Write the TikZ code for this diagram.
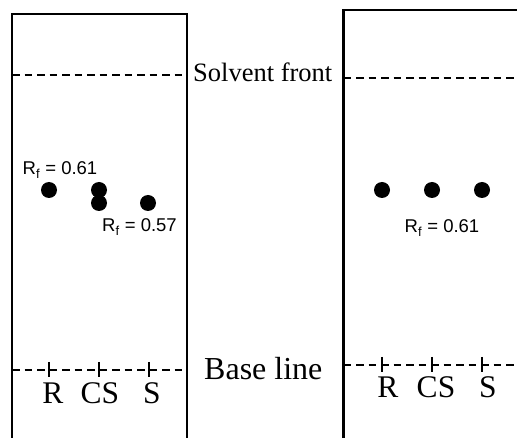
\documentclass[tikz,border=0pt]{standalone}
\usepackage{fontspec}
\setmainfont{Liberation Serif}
\setsansfont{Liberation Sans}
\begin{document}
\begin{tikzpicture}[x=1pt,y=-1pt,
  plate/.style={line width=2.4pt, line join=miter},
  front/.style={line width=2.2pt, dash pattern=on 7.5pt off 5pt},
  spot/.style={circle, fill=black, inner sep=0pt, minimum size=16pt},
  tickmark/.style={line width=2.6pt},
  lane/.style={font=\fontsize{31.5}{31.5}\selectfont, anchor=base, inner sep=0pt},
  rf/.style={font=\sffamily\fontsize{18.5}{18.5}\selectfont, anchor=base, inner sep=0pt},
  caption/.style={anchor=base west, inner sep=0pt}]
\useasboundingbox (0,0) rectangle (517,438);

% ---- left plate (co-spot run) ----
\draw[plate] (12,438) -- (12,14) -- (187,14) -- (187,438);
\coordinate (Lf1) at (12,75);  \coordinate (Lf2) at (187,75);
\coordinate (Lb1) at (12,370); \coordinate (Lb2) at (187,370);
\draw[front] (Lf1) -- (Lf2);
\draw[front] (Lb1) -- (Lb2);
\foreach \x/\n in {49/LR,99/LCS,149/LS}{
  \coordinate (\n) at (\x,370);
  \draw[tickmark] ([yshift=8pt]\n) -- ([yshift=-7pt]\n);
}
\node[lane] (lR)  at (53,403)  {R};
\node[lane] (lCS) at (100,403) {CS};
\node[lane] (lS)  at (152,403) {S};

\node[spot] (sR)   at (49,190)  {};
\node[spot] (sCS1) at (99,190)  {};
\node[spot] (sCS2) at (99,203)  {};
\node[spot] (sS)   at (148,203) {};
\node[rf] (rf1) at (60,175)    {R\textsubscript{f} = 0.61};
\node[rf] (rf2) at (139.5,232) {R\textsubscript{f} = 0.57};

% ---- labels between the plates ----
\node[caption, font=\fontsize{26.5}{26.5}\selectfont] (front) at (193,82) {Solvent front};
\node[caption, font=\fontsize{32}{32}\selectfont] (base) at (204,380) {Base line};

% ---- right plate ----
\draw[plate] (343.5,438) -- (343.5,10) -- (520,10);
\coordinate (Rf1) at (343.5,78);  \coordinate (Rf2) at (517,78);
\coordinate (Rb1) at (343.5,365); \coordinate (Rb2) at (517,365);
\draw[front] (Rf1) -- (Rf2);
\draw[front] (Rb1) -- (Rb2);
\foreach \x/\n in {382/RR,432/RCS,482/RS}{
  \coordinate (\n) at (\x,365);
  \draw[tickmark] ([yshift=8pt]\n) -- ([yshift=-7pt]\n);
}
\node[lane] (rR)  at (388,397) {R};
\node[lane] (rCS) at (436,397) {CS};
\node[lane] (rS)  at (488,397) {S};

\node[spot] (tR)  at (382,190) {};
\node[spot] (tCS) at (432,190) {};
\node[spot] (tS)  at (482,190) {};
\node[rf] (rf3) at (442,233) {R\textsubscript{f} = 0.61};
\end{tikzpicture}
\end{document}
